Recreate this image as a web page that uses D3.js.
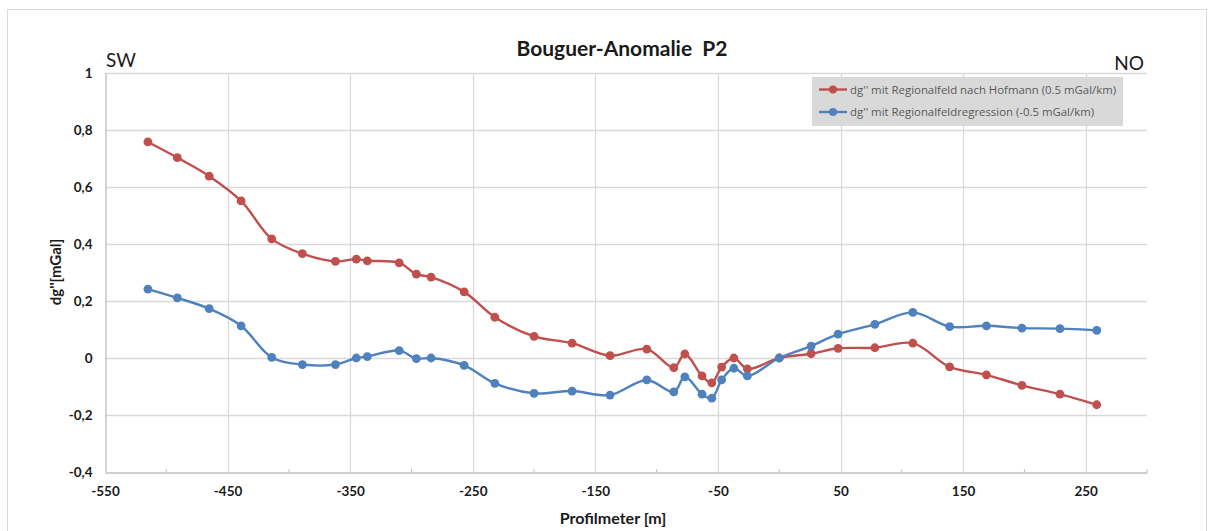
<!DOCTYPE html>
<html>
<head>
<meta charset="utf-8">
<script src="https://cdn.jsdelivr.net/npm/d3@7"></script>
<style>
  html, body { margin: 0; padding: 0; background: #fff; }
  svg { display: block; }
  text { font-family: "Lato", "Open Sans", sans-serif; }
</style>
</head>
<body>
<svg id="chart" width="1213" height="531"></svg>
<script>
// Profile positions along P2 [m]
const profilmeter = [-515, -491, -465, -439, -414, -389, -362, -345, -336, -310, -296, -284,
  -257, -232, -200, -169, -138, -108, -86, -77, -63, -55, -47, -37, -26,
  0, 26, 48, 78, 109, 139, 169, 198, 229, 259];

// dg'' with regional field after Hofmann (0.5 mGal/km)
const dgHofmann = [0.758, 0.703, 0.638, 0.551, 0.418, 0.366, 0.339, 0.347, 0.341, 0.334, 0.294, 0.284,
  0.232, 0.143, 0.076, 0.052, 0.008, 0.031, -0.034, 0.014, -0.063, -0.087, -0.032, 0.0, -0.038,
  0.0, 0.015, 0.034, 0.036, 0.052, -0.031, -0.059, -0.096, -0.127, -0.164];

// dg'' with regional field regression (-0.5 mGal/km)
const dgRegression = [0.242, 0.211, 0.173, 0.113, 0.002, -0.023, -0.023, 0.0, 0.005, 0.026, -0.002, 0.0,
  -0.026, -0.089, -0.124, -0.116, -0.130, -0.077, -0.119, -0.066, -0.127, -0.141, -0.077, -0.036, -0.063,
  0.0, 0.042, 0.084, 0.118, 0.160, 0.110, 0.113, 0.105, 0.103, 0.097];

const xTicks = [-550, -450, -350, -250, -150, -50, 50, 150, 250];
const xMinorTicks = [-500, -400, -300, -200, -100, 0, 100, 200, 300];
const yTicks = [-0.4, -0.2, 0, 0.2, 0.4, 0.6, 0.8, 1];

const seriesNames = [
  "dg'' mit Regionalfeld nach Hofmann (0.5 mGal/km)",
  "dg'' mit Regionalfeldregression (-0.5 mGal/km)"
];
const seriesColors = ["#C0504D", "#4F81BD"];

const svg = d3.select("#chart");

// Chart frame
svg.append("rect").attr("x", 7.5).attr("y", 9.5).attr("width", 1199).attr("height", 540)
  .attr("fill", "#fff").attr("stroke", "#d9d9d9").attr("stroke-width", 1);

const x = d3.scaleLinear().domain([-550, 300]).range([105, 1147]);
const y = d3.scaleLinear().domain([-0.4, 1]).range([472, 73]);

const fmt = v => String(Math.round(v * 10) / 10).replace(".", ",");

// Horizontal grid
svg.append("g").selectAll("line").data(yTicks.filter(v => v > -0.4)).join("line")
  .attr("x1", x(-550)).attr("x2", x(300))
  .attr("y1", d => Math.round(y(d)) + 0.5).attr("y2", d => Math.round(y(d)) + 0.5)
  .attr("stroke", "#d9d9d9").attr("stroke-width", 1.3);

// Vertical grid
svg.append("g").selectAll("line").data(xTicks.filter(v => v > -550)).join("line")
  .attr("x1", d => Math.round(x(d)) + 0.5).attr("x2", d => Math.round(x(d)) + 0.5)
  .attr("y1", y(1)).attr("y2", y(-0.4))
  .attr("stroke", "#d9d9d9").attr("stroke-width", 1.3);

// X axis
const xAxis = svg.append("g").attr("transform", `translate(0,${Math.round(y(-0.4)) + 0.5})`)
  .call(d3.axisBottom(x).tickValues(xTicks).tickSize(0).tickPadding(14).tickFormat(d => String(d)));
xAxis.select(".domain").attr("stroke", "#bfbfbf").attr("stroke-width", 1.3);
xAxis.selectAll("text").attr("font-size", 13.5).attr("font-weight", 700).attr("fill", "#1a1a1a")
  .style("font-family", "Lato, sans-serif");
svg.append("g").selectAll("line").data(xMinorTicks).join("line")
  .attr("x1", d => x(d)).attr("x2", d => x(d))
  .attr("y1", y(-0.4) - 3).attr("y2", y(-0.4))
  .attr("stroke", "#bfbfbf").attr("stroke-width", 1);

// Y axis
const yAxis = svg.append("g").attr("transform", `translate(${Math.round(x(-550)) + 0.5},0)`)
  .call(d3.axisLeft(y).tickValues(yTicks).tickSize(0).tickPadding(13).tickFormat(fmt));
yAxis.select(".domain").attr("stroke", "#bfbfbf").attr("stroke-width", 1.3);
yAxis.selectAll("text").attr("font-size", 13.5).attr("font-weight", 700).attr("fill", "#1a1a1a")
  .style("font-family", "Lato, sans-serif");

// Series lines and markers
const series = [dgHofmann, dgRegression];
const line = d3.line()
  .x((d, i) => x(profilmeter[i]))
  .y(d => y(d))
  .curve(d3.curveCatmullRom.alpha(0.5));

series.forEach((vals, k) => {
  const g = svg.append("g");
  g.append("path").datum(vals).attr("d", line)
    .attr("fill", "none").attr("stroke", seriesColors[k]).attr("stroke-width", 2.4)
    .attr("stroke-linejoin", "round");
  g.selectAll("circle").data(vals).join("circle")
    .attr("cx", (d, i) => x(profilmeter[i])).attr("cy", d => y(d)).attr("r", 4.4)
    .attr("fill", seriesColors[k]);
});

// Title and direction labels
svg.append("text").attr("x", 622).attr("y", 56).attr("text-anchor", "middle")
  .attr("font-size", 21).attr("font-weight", 700).attr("fill", "#1a1a1a")
  .style("white-space", "pre").text("Bouguer-Anomalie  P2");
svg.append("text").attr("x", 106).attr("y", 67).attr("font-size", 19).attr("fill", "#1a1a1a").text("SW");
svg.append("text").attr("x", 1144).attr("y", 70).attr("text-anchor", "end")
  .attr("font-size", 19).attr("fill", "#1a1a1a").text("NO");

// Axis titles
svg.append("text").attr("x", 613).attr("y", 524).attr("text-anchor", "middle")
  .attr("font-size", 16).attr("font-weight", 700).attr("fill", "#1a1a1a").text("Profilmeter [m]");
svg.append("text").attr("transform", "translate(61,272) rotate(-90)").attr("text-anchor", "middle")
  .attr("font-size", 15).attr("font-weight", 700).attr("fill", "#1a1a1a").text("dg''[mGal]");

// Legend
const lg = svg.append("g");
lg.append("rect").attr("x", 812).attr("y", 77).attr("width", 311).attr("height", 49).attr("fill", "#d9d9d9");
seriesNames.forEach((name, k) => {
  const yy = 89.5 + k * 22.5;
  lg.append("line").attr("x1", 819).attr("x2", 847).attr("y1", yy).attr("y2", yy)
    .attr("stroke", seriesColors[k]).attr("stroke-width", 2.4);
  lg.append("circle").attr("cx", 833).attr("cy", yy).attr("r", 4).attr("fill", seriesColors[k]);
  lg.append("text").attr("x", 850).attr("y", yy + 4).attr("font-size", 11.4).attr("fill", "#595959")
    .style("font-family", "'Open Sans', sans-serif").text(name);
});
</script>
</body>
</html>
